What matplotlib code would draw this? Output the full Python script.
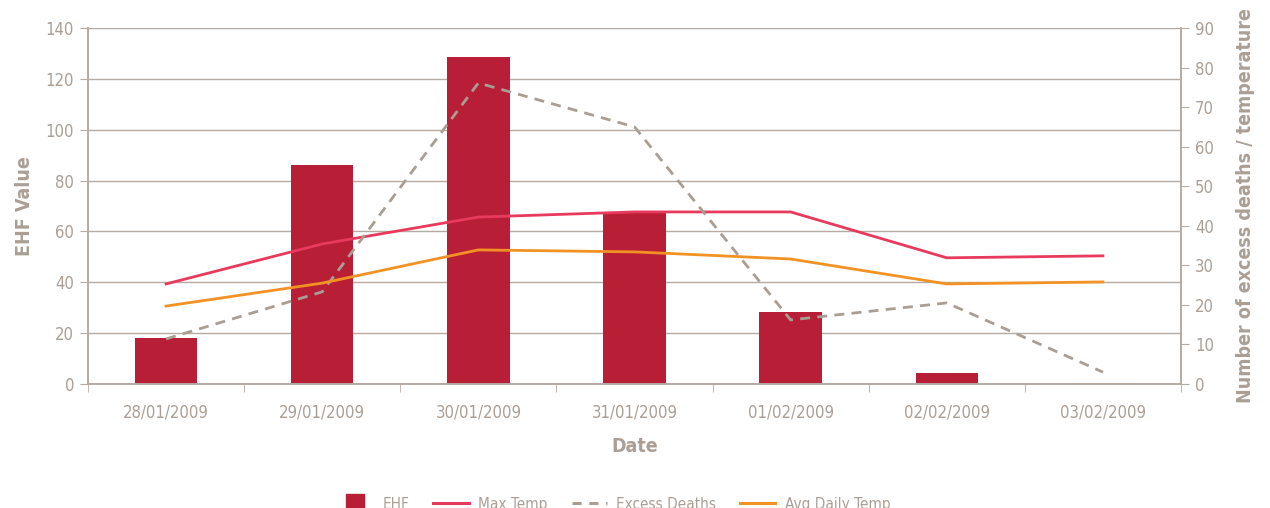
import matplotlib
matplotlib.use("Agg")
import matplotlib.pyplot as plt
from matplotlib.lines import Line2D
import numpy as np

plt.rcParams['font.family'] = ['DejaVu Sans']
plt.rcParams['font.stretch'] = 'condensed'

dates = ["28/01/2009", "29/01/2009", "30/01/2009", "31/01/2009",
         "01/02/2009", "02/02/2009", "03/02/2009"]
ehf = [18.1, 86.0, 128.6, 67.6, 28.3, 4.3, 0.4]
max_temp = [25.3, 35.4, 42.2, 43.5, 43.5, 31.9, 32.4]
excess_deaths = [11.4, 23.3, 76.1, 65.0, 16.2, 20.5, 3.0]
avg_temp = [19.7, 25.5, 33.9, 33.4, 31.6, 25.3, 25.8]

TXT = '#ab9f95'
AX = '#b5aba2'
BAR = '#b81f36'
MAXC = '#e83a5c'
AVGC = '#f39224'
DTH = '#a89e94'
DASH = (0, (3.6, 2.6))

fig = plt.figure(figsize=(12.7, 5.08), dpi=100)
ax = fig.add_axes([88/1270, 1-384/508, (1181-88)/1270, (384-28)/508])
x = np.arange(len(dates))

ax.bar(x, ehf, width=0.4, color=BAR, zorder=2)
ax.set_xlim(-0.5, len(dates)-0.5)
ax.set_ylim(0, 140)
ax.set_yticks(range(0, 141, 20))
ax.grid(axis='y', color=AX, linewidth=1.0, zorder=0)
ax.set_axisbelow(True)

ax2 = ax.twinx()
ax2.plot(x, max_temp, color=MAXC, linewidth=2.0, zorder=3)
ax2.plot(x, excess_deaths, color=DTH, linewidth=2.0, linestyle=DASH, zorder=3)
ax2.plot(x, avg_temp, color=AVGC, linewidth=2.0, zorder=3)
ax2.set_ylim(0, 90)
ax2.set_yticks(range(0, 91, 10))

ax.set_xticks(x)
ax.set_xticklabels(dates)
ax.set_xticks(np.arange(-0.5, len(dates), 1), minor=True)
ax.tick_params(axis='x', which='major', length=0, pad=14, labelsize=12, labelcolor=TXT)
ax.tick_params(axis='x', which='minor', length=6, color=AX, direction='out')
ax.tick_params(axis='y', length=6, color=AX, labelsize=12, labelcolor=TXT, pad=4)
ax2.tick_params(axis='y', length=6, color=AX, labelsize=12, labelcolor=TXT, pad=4)

for a in (ax, ax2):
    a.spines['top'].set_visible(False)
    for s in ('left', 'right', 'bottom'):
        a.spines[s].set_color(AX)
        a.spines[s].set_linewidth(1.2)

ax.set_ylabel('EHF Value', fontsize=14, fontweight='bold', color=TXT, labelpad=8)
ax.set_xlabel('Date', fontsize=14, fontweight='bold', color=TXT, labelpad=11)
ax2.set_ylabel('Number of excess deaths / temperature', fontsize=14, fontweight='bold',
               color=TXT, labelpad=16)

handles = [
    Line2D([], [], color=BAR, marker='s', markersize=13, linestyle='none'),
    Line2D([], [], color=MAXC, linewidth=2.2),
    Line2D([], [], color=DTH, linewidth=2.2, linestyle=(0, (3, 2.5))),
    Line2D([], [], color=AVGC, linewidth=2.2),
]
labels = ['EHF', 'Max Temp', 'Excess Deaths', 'Avg Daily Temp']
leg = fig.legend(handles, labels, loc='center', bbox_to_anchor=(0.4835, 4/508), ncol=4,
                 frameon=False, fontsize=11, handlelength=2.3, handleheight=1.0,
                 columnspacing=1.6, handletextpad=0.6)
for t in leg.get_texts():
    t.set_color(TXT)

fig.savefig('out.png', dpi=100)
